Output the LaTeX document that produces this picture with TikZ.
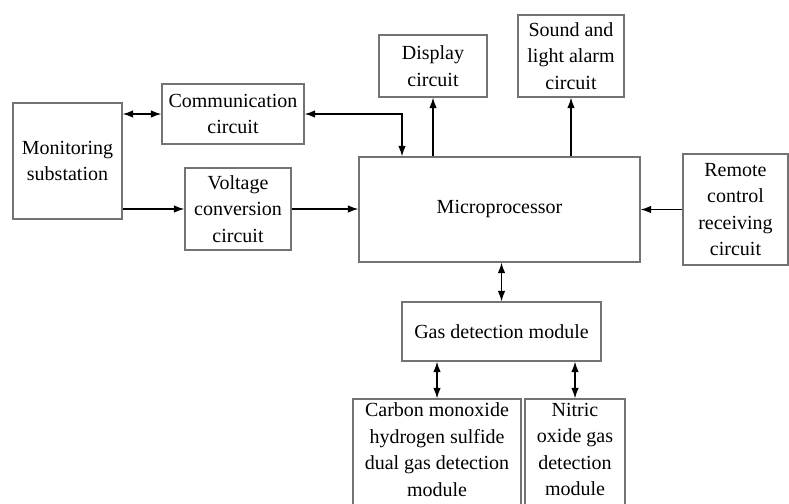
\documentclass[tikz,border=0pt]{standalone}
\usepackage{fontspec}
\setmainfont{Liberation Serif}
\usetikzlibrary{arrows.meta,positioning,calc}

\begin{document}
\begin{tikzpicture}[
    x=1pt, y=-1pt,
    box/.style={draw=black!55, line width=1.1pt, align=center, inner sep=2pt,
        font=\fontsize{20}{26.5}\selectfont},
    arrow/.style={-{Latex[length=10.5pt,width=7.5pt]}, line width=1.4pt},
    biarrow/.style={{Latex[length=10.5pt,width=7.5pt]}-{Latex[length=10.5pt,width=7.5pt]}, line width=1.4pt}
]
\useasboundingbox (0,0) rectangle (789,503);
\fill[white] (0,0) rectangle (789,503);
\clip (0,0) rectangle (789,503);

\node[box, minimum width=109pt, minimum height=116pt] (mon) at (67.5,161) {Monitoring\\substation};
\node[box, minimum width=142pt, minimum height=60pt] (comm) at (233,114) {Communication\\circuit};
\node[box, minimum width=106pt, minimum height=82pt] (volt) at (238,209) {Voltage\\conversion\\circuit};
\node[box, minimum width=281pt, minimum height=105pt] (micro) at (499.5,209.5) {Microprocessor};
\node[box, minimum width=108pt, minimum height=62pt] (disp) at (433,66) {Display\\circuit};
\node[box, minimum width=106pt, minimum height=82pt] (alarm) at (571,56) {Sound and\\light alarm\\circuit};
\node[box, minimum width=105pt, minimum height=111pt] (remote) at (735.5,209.5) {Remote\\control\\receiving\\circuit};
\node[box, minimum width=199pt, minimum height=59pt] (gas) at (501.5,331.5) {Gas detection module};
% bottom modules run past the lower edge
\node[box, minimum width=168pt, minimum height=112pt, text depth=11pt] (co) at (437,455) {Carbon monoxide\\hydrogen sulfide\\dual gas detection\\module};
\node[box, minimum width=100pt, minimum height=112pt, text depth=11pt] (no) at (575,455) {Nitric\\oxide gas\\detection\\module};

% left side
\draw[biarrow] (mon.east |- comm.west) -- (comm.west);
\draw[arrow] (mon.east |- volt.west) -- (volt.west);
\draw[arrow] (volt.east) -- (volt.east -| micro.west);
\coordinate (cin) at ([xshift=-97.5pt]micro.north);
\draw[biarrow] (comm.east) -| (cin);

% top and right
\draw[arrow] (disp.south |- micro.north) -- (disp.south);
\draw[arrow] (alarm.south |- micro.north) -- (alarm.south);
\draw[arrow] (remote.west) -- (remote.west -| micro.east);

% gas detection
\draw[biarrow] (gas.north |- micro.south) -- (gas.north);
\draw[biarrow] (co.north |- gas.south) -- (co.north);
\draw[biarrow] (no.north |- gas.south) -- (no.north);
\end{tikzpicture}
\end{document}
